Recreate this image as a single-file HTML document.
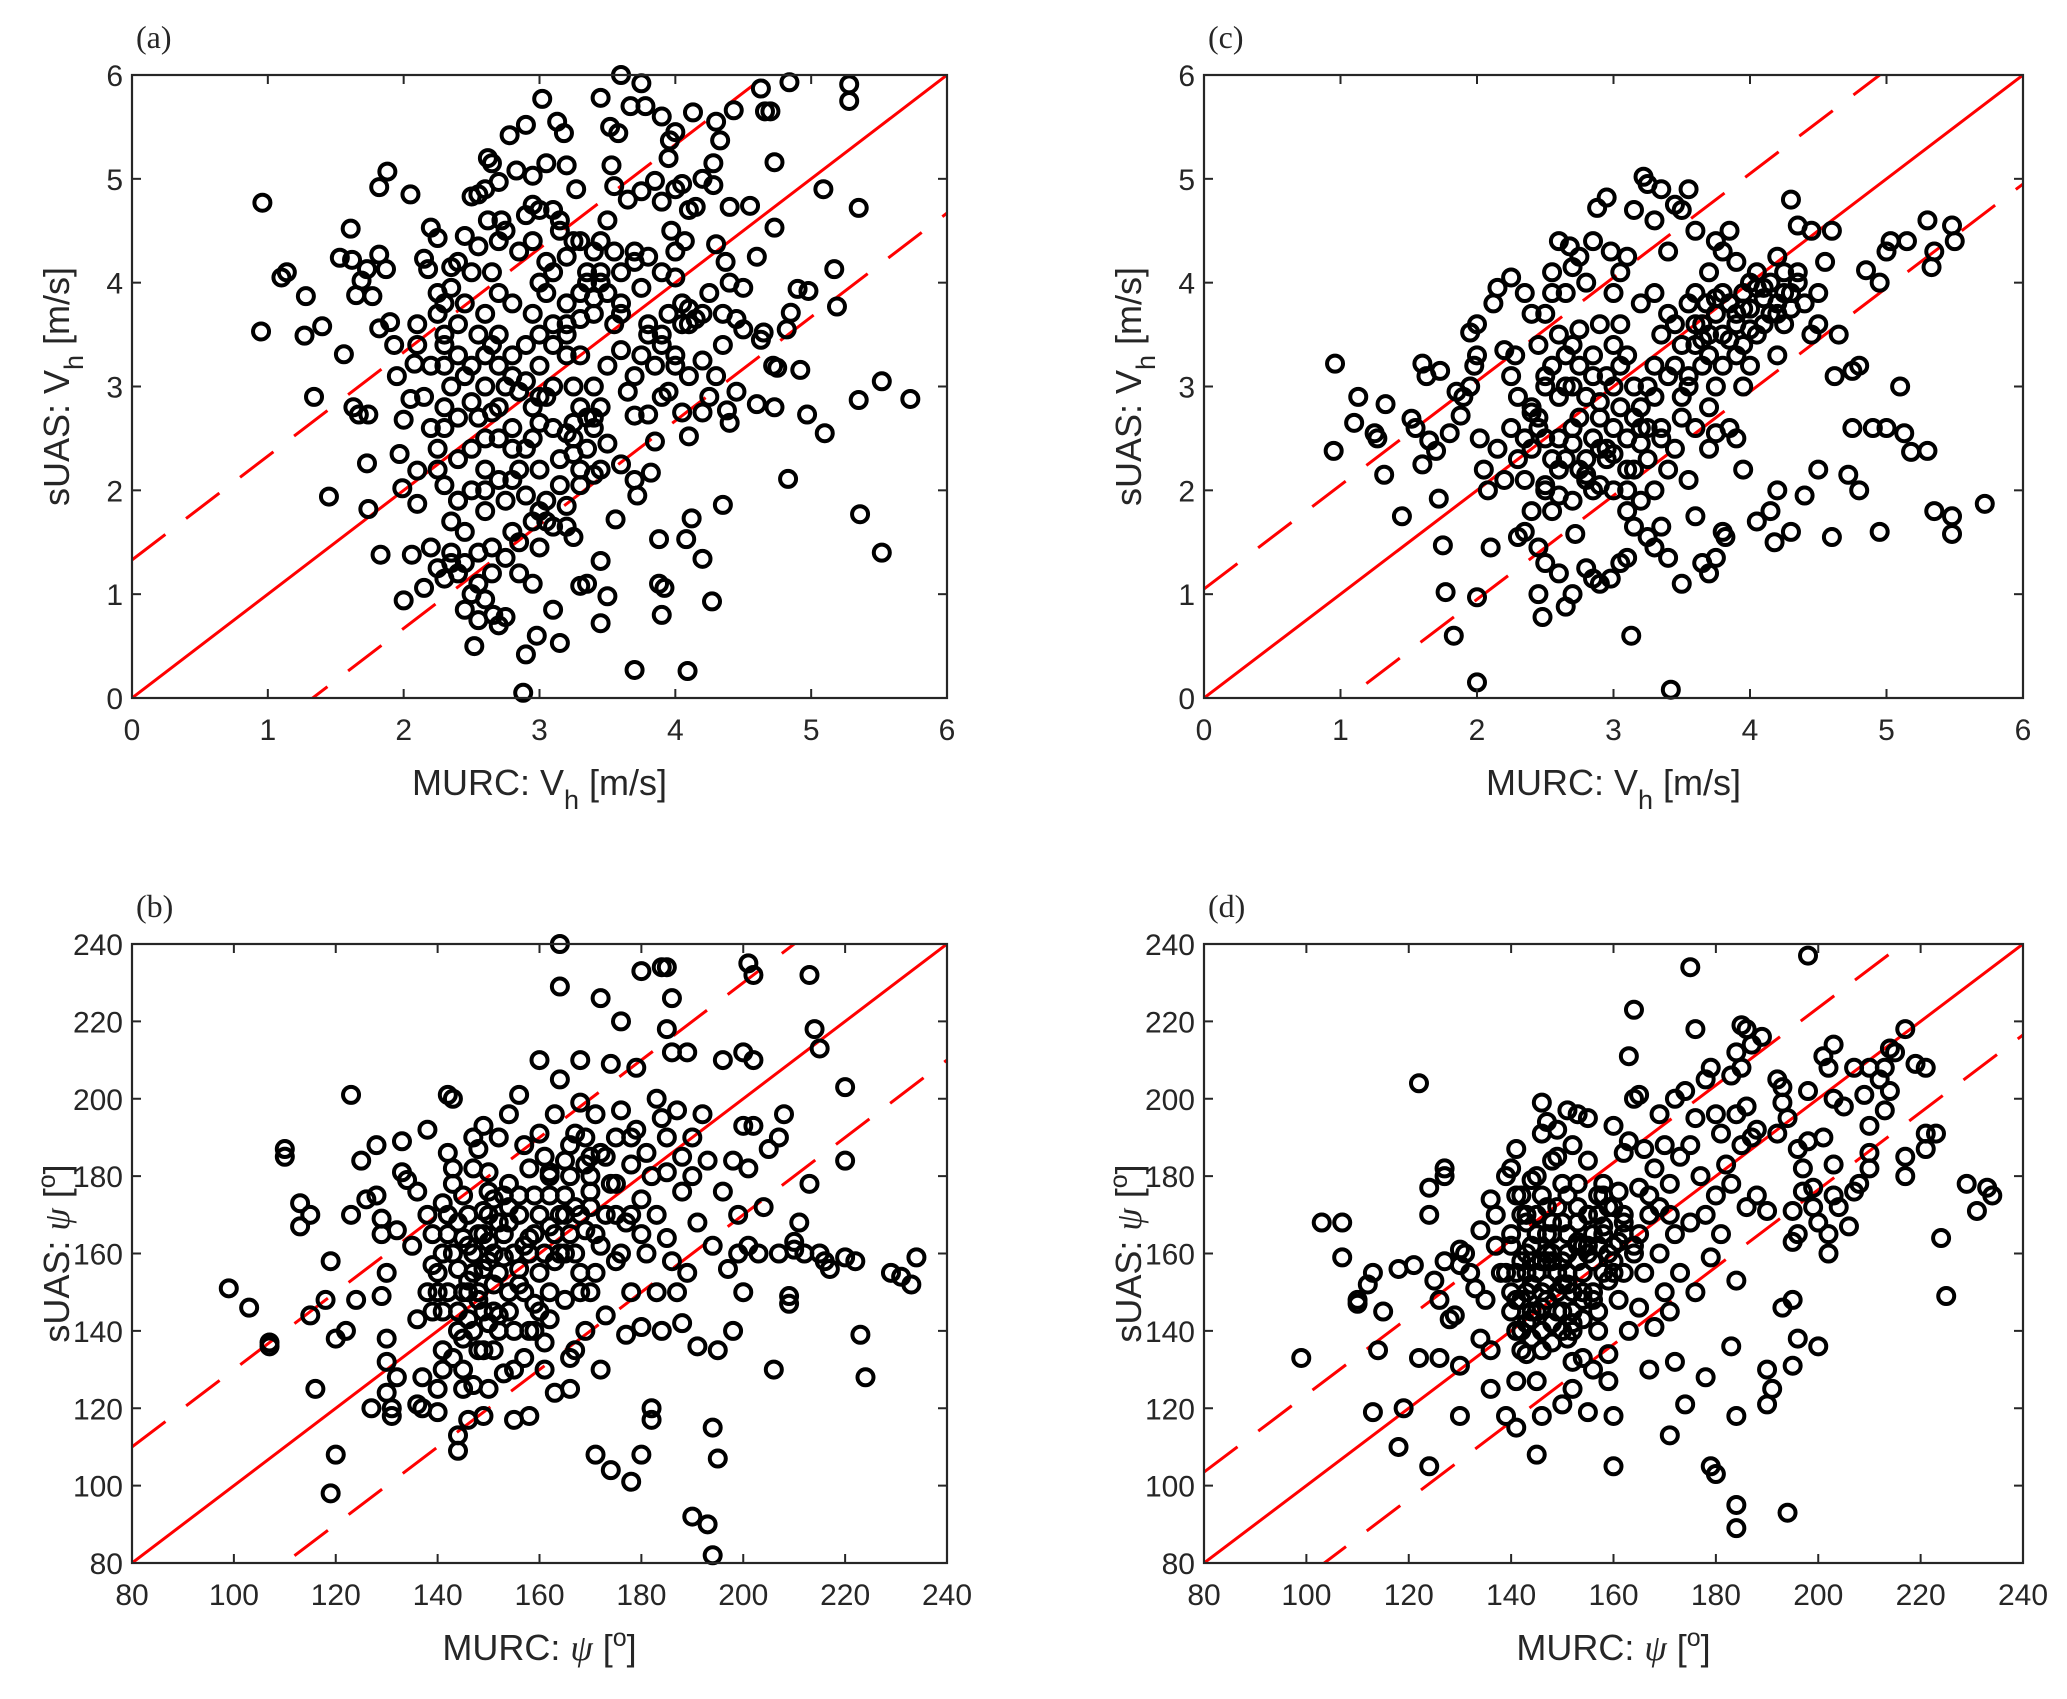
<!DOCTYPE html>
<html><head><meta charset="utf-8"><style>
html,body{margin:0;padding:0;background:#fff;}
svg{display:block;}
text{font-family:"Liberation Sans",sans-serif;fill:#262626;}
.ser{font-family:"Liberation Serif",serif;}
</style></head><body>
<svg id="fig" width="2067" height="1699" viewBox="0 0 2067 1699" xmlns="http://www.w3.org/2000/svg"></svg>
<script>
// ---- data ----
const aX=[0.96,0.95,1.1,1.14,1.28,1.27,1.4,1.34,1.53,1.56,1.61,1.62,1.65,1.69,1.73,1.77,1.63,1.67,1.74,1.73,1.74,1.45,1.83,1.82,1.82,1.87,1.88,1.82,2.05,1.9,1.93,1.95,1.97,2.0,1.99,2.0,2.06,2.1,2.1,2.05,2.08,2.1,2.15,2.18,2.2,2.25,2.15,2.2,2.25,2.3,2.35,2.4,2.45,2.5,2.52,2.55,2.6,2.66,2.7,2.75,2.9,2.88,2.98,3.1,3.15,3.3,3.35,3.45,3.5,3.45,3.7,4.09,3.88,3.92,3.9,3.88,4.08,4.2,4.12,4.27,4.35,3.56,3.25,3.0,3.1,2.8,2.85,2.95,3.05,3.2,3.3,3.4,3.5,3.6,3.7,3.72,3.82,3.85,3.8,3.7,3.95,4.05,4.1,4.2,4.25,4.4,4.38,4.45,4.6,4.73,4.97,5.1,5.35,5.52,5.73,4.83,5.36,5.52,4.92,4.72,4.75,4.63,4.65,4.82,4.85,4.9,4.98,5.19,5.17,5.09,5.35,4.73,4.6,4.55,4.4,4.73,4.7,4.66,4.63,4.84,5.28,5.28,4.43,4.3,4.28,4.33,4.28,4.2,4.13,4.0,3.96,3.9,3.95,3.75,3.78,3.67,3.6,3.45,3.52,3.58,3.53,3.55,3.65,3.75,3.85,3.9,4.0,4.05,4.1,4.15,4.07,4.0,3.97,4.3,4.37,4.4,4.5,4.45,4.5,4.35,4.25,4.2,4.15,4.1,4.05,3.95,4.0,4.1,4.2,4.3,4.35,3.9,3.8,3.75,3.7,3.65,3.6,3.55,3.5,3.45,3.4,3.35,3.3,3.2,3.15,3.1,3.0,2.95,2.9,3.05,3.2,3.27,3.13,3.18,3.02,2.95,2.83,2.9,2.78,2.62,2.65,2.7,2.6,2.55,2.5,2.62,2.72,2.7,2.45,2.4,2.5,2.35,2.3,2.25,2.3,2.4,2.45,2.35,2.3,2.2,2.25,2.4,2.5,2.6,2.7,2.75,2.8,2.85,2.9,2.95,3.0,2.95,2.8,2.7,2.6,2.55,2.65,3.05,3.1,3.2,3.25,3.3,3.1,3.0,3.2,3.25,3.35,3.4,3.45,3.5,2.8,2.7,2.6,2.5,2.4,2.3,2.35,2.45,2.6,2.7,2.75,2.85,2.9,2.65,2.55,2.25,2.2,2.15,2.1,2.3,2.55,2.65,3.0,3.1,3.2,3.3,3.4,3.6,3.7,3.75,3.8,3.9,3.6,3.55,3.45,3.85,3.9,4.05,4.0,3.3,3.25,2.95,3.05,3.15,3.0,
2.3,2.4,2.5,2.6,2.7,2.8,2.9,3.0,3.1,3.2,3.3,3.4,2.35,2.45,2.55,2.65,2.75,2.85,2.95,3.05,3.15,3.25,3.35,3.45,2.3,2.4,2.5,2.6,2.7,2.8,2.9,3.0,3.1,3.2,3.3,3.4,2.25,2.45,2.65,2.85,3.05,3.25,3.45,2.35,2.55,2.75,2.95,3.15,3.35,2.4,2.6,2.8,3.0,3.2,3.4,3.6,3.8,3.9,4.0,4.1,3.7,3.5];
const aY=[4.77,3.53,4.05,4.1,3.87,3.49,3.58,2.9,4.24,3.31,4.52,4.22,3.88,4.02,4.13,3.87,2.8,2.73,2.73,2.26,1.82,1.94,1.38,3.56,4.27,4.13,5.07,4.92,4.85,3.62,3.4,3.1,2.35,2.68,2.02,0.94,1.38,1.87,2.19,2.88,3.22,3.6,4.23,4.13,4.53,4.43,1.06,1.45,1.25,1.15,1.3,1.2,0.85,1.0,0.5,0.75,0.95,0.8,0.7,0.78,0.42,0.05,0.6,0.85,0.53,1.08,1.1,1.32,0.98,0.72,0.27,0.26,1.1,1.06,0.8,1.53,1.53,1.34,1.73,0.93,1.86,1.72,1.55,1.45,1.65,1.6,1.2,1.1,1.7,1.85,2.05,2.15,2.45,2.25,2.1,1.95,2.17,2.47,2.73,2.72,2.95,2.75,2.52,2.75,2.9,2.65,2.77,2.95,2.83,2.8,2.73,2.55,2.87,3.05,2.88,2.11,1.77,1.4,3.16,3.2,3.18,3.45,3.52,3.55,3.71,3.94,3.92,3.77,4.13,4.9,4.72,4.53,4.25,4.74,4.73,5.16,5.65,5.65,5.87,5.93,5.91,5.75,5.66,5.55,5.15,5.37,4.94,5.0,5.64,5.45,5.37,5.6,5.2,5.92,5.7,5.7,6.0,5.78,5.5,5.44,5.13,4.93,4.8,4.88,4.98,4.78,4.9,4.95,4.7,4.73,4.4,4.3,4.5,4.37,4.2,4.0,3.95,3.65,3.55,3.7,3.9,3.7,3.65,3.75,3.8,3.7,3.3,3.1,3.25,3.1,3.4,3.5,3.6,3.3,3.1,2.95,3.35,3.6,3.9,4.1,4.3,4.0,4.4,4.25,4.5,4.7,4.7,4.75,4.65,5.15,5.13,4.9,5.55,5.44,5.77,5.03,5.08,5.52,5.42,5.2,5.15,4.97,4.9,4.85,4.83,4.6,4.6,4.4,4.45,4.2,4.1,3.95,3.8,3.7,3.5,3.3,3.1,3.0,2.8,2.6,2.4,2.7,2.85,3.0,3.2,3.0,3.1,2.95,3.05,2.8,3.5,3.7,3.8,3.9,3.7,3.5,3.4,3.9,3.6,3.3,3.0,2.8,2.6,2.65,2.55,2.35,2.4,2.6,2.8,3.2,2.4,2.5,2.2,2.0,1.9,2.05,1.7,1.6,1.8,2.1,1.9,2.2,1.95,1.45,1.4,2.2,3.2,2.9,3.4,3.2,2.7,2.75,4.0,4.1,3.8,3.65,3.85,4.1,4.2,3.95,4.25,4.1,3.8,4.3,4.4,3.2,2.9,3.6,4.05,3.3,2.65,2.5,2.9,2.05,2.2,
3.4,3.6,3.2,3.3,3.5,3.3,3.4,3.2,3.0,3.6,3.9,3.7,1.4,1.3,1.1,1.2,1.35,1.5,1.7,1.9,2.3,2.5,2.7,2.2,2.6,2.3,2.4,2.5,2.8,2.6,2.4,2.9,3.4,3.5,2.2,3.0,3.9,3.8,4.1,4.3,4.2,4.4,4.0,4.15,4.35,4.5,4.4,4.6,4.1,1.9,2.0,2.1,1.8,1.65,2.7,3.7,3.5,3.4,3.2,3.6,4.3,4.6];
const cX=[0.96,0.95,1.13,1.1,1.25,1.27,1.33,1.32,1.45,1.52,1.55,1.6,1.6,1.63,1.65,1.7,1.72,1.73,1.75,1.77,1.83,1.8,1.85,1.88,1.9,1.95,1.95,1.98,2.0,2.0,2.02,2.05,2.08,2.0,2.0,2.1,2.12,2.15,2.2,2.25,2.25,2.3,2.3,2.35,2.35,2.4,2.4,2.45,2.45,2.48,2.5,2.5,2.55,2.6,2.65,2.68,2.7,2.75,2.6,2.65,2.7,2.72,2.8,2.85,2.9,2.98,3.05,3.13,3.1,3.15,3.25,3.3,3.35,3.42,3.4,3.5,3.6,3.65,3.7,3.75,3.8,3.82,3.95,4.05,4.15,4.18,4.2,4.3,4.4,4.5,4.6,4.72,4.75,4.8,4.95,4.9,5.0,5.1,5.13,5.18,5.3,5.35,5.48,5.48,5.72,4.95,5.0,5.03,5.15,5.3,5.33,5.35,5.48,5.5,4.85,4.8,4.75,4.62,4.65,4.5,4.55,4.6,4.45,4.35,4.3,4.2,4.15,4.1,4.05,4.0,3.95,3.9,3.85,3.8,3.75,3.7,3.68,3.65,3.6,3.55,3.5,3.45,3.4,3.35,3.3,3.22,3.25,3.15,3.1,3.0,3.05,2.98,2.95,2.88,2.85,2.8,2.75,4.05,4.0,3.9,3.8,3.75,3.7,3.6,3.55,3.5,3.45,3.4,3.35,3.3,3.25,3.2,3.15,3.1,3.05,3.0,2.95,2.9,2.85,2.8,2.75,2.7,2.65,2.6,2.55,2.5,2.45,2.4,2.35,2.3,2.28,2.25,2.2,2.15,2.6,2.65,2.7,2.75,2.8,2.85,2.9,2.95,3.0,3.05,3.1,3.15,3.2,3.25,3.3,3.35,3.4,3.45,3.5,3.55,3.6,3.65,3.7,3.75,3.8,3.85,3.9,3.95,4.0,4.1,4.2,4.25,4.3,4.35,4.4,4.45,4.5,4.25,3.85,3.9,3.7,3.75,3.55,2.5,2.55,2.6,2.7,2.4,2.35,2.45,2.5,2.55,2.9,2.85,3.0,3.1,3.2,3.3,4.2,3.95,3.6,
2.4,2.5,2.6,2.7,2.8,2.9,3.0,3.1,3.2,3.3,3.4,3.5,3.6,3.7,3.8,3.9,4.0,4.1,4.2,4.3,2.45,2.55,2.65,2.75,2.85,2.95,3.05,3.15,3.25,3.35,3.45,3.55,3.65,3.75,3.85,3.95,4.05,4.15,4.25,4.35,2.5,2.6,2.7,2.8,2.9,3.0,3.1,3.2];
const cY=[3.22,2.38,2.9,2.65,2.55,2.5,2.83,2.15,1.75,2.69,2.6,3.22,2.25,3.1,2.48,2.38,1.92,3.15,1.47,1.02,0.6,2.55,2.95,2.72,2.9,3.52,3.0,3.2,3.3,3.6,2.5,2.2,2.0,0.97,0.15,1.45,3.8,3.95,3.35,3.1,4.05,2.3,1.55,1.6,3.9,3.7,2.75,1.45,1.0,0.78,1.3,2.0,4.1,4.4,3.9,4.35,4.15,3.55,1.2,0.88,1.0,1.58,1.25,1.15,1.1,1.15,1.3,0.6,1.35,1.65,1.55,1.45,1.65,0.08,1.35,1.1,1.75,1.3,1.2,1.35,1.6,1.55,2.2,1.7,1.8,1.5,2.0,1.6,1.95,2.2,1.55,2.15,2.6,2.0,1.6,2.6,2.6,3.0,2.55,2.37,2.38,1.8,1.58,1.75,1.87,4.0,4.3,4.4,4.4,4.6,4.15,4.3,4.55,4.4,4.12,3.2,3.15,3.1,3.5,3.6,4.2,4.5,4.5,4.55,4.8,4.25,4.0,3.85,4.1,3.75,3.9,4.2,4.5,4.3,4.4,4.1,3.8,3.6,4.5,4.9,4.7,4.75,4.3,4.9,4.6,5.02,4.95,4.7,4.25,3.9,4.1,4.3,4.82,4.72,4.4,4.0,4.25,3.5,3.2,3.3,3.5,3.0,2.8,3.4,3.0,2.7,2.4,2.2,2.6,2.0,2.3,2.8,3.0,3.3,3.6,2.6,2.3,2.05,2.5,2.9,3.2,2.6,2.3,2.9,3.2,3.0,2.7,2.4,2.1,2.9,3.3,2.6,2.1,2.4,3.5,3.3,3.0,2.7,2.3,2.0,2.7,3.1,3.4,2.8,2.5,2.2,1.9,2.6,3.2,3.5,3.7,3.2,3.4,3.8,3.9,3.2,3.5,3.7,3.2,3.8,3.6,3.4,4.0,3.6,3.8,3.6,3.9,4.1,3.8,3.5,3.9,4.1,2.6,2.5,2.4,2.55,2.1,2.5,1.8,2.2,1.9,1.8,2.5,3.4,3.7,3.9,3.6,3.3,2.0,1.8,3.8,3.9,3.3,3.0,2.6,
2.8,3.1,2.5,3.4,2.1,2.4,3.0,2.2,2.6,2.9,3.1,2.9,3.6,3.3,3.9,3.7,3.55,3.95,3.7,3.75,2.6,2.3,3.0,2.2,3.1,2.4,3.2,2.7,3.0,2.5,3.6,3.1,3.45,3.85,3.45,3.75,3.95,3.7,3.9,4.0,2.05,1.95,2.45,2.15,2.85,2.35,2.0,2.45];
const bX=[99,103,107,107,110,110,113,113,115,115,116,118,119,119,120,120,122,123,123,124,125,126,127,128,128,129,129,129,130,130,130,130,131,131,132,132,133,133,134,135,136,136,136,137,137,138,138,139,140,140,141,141,141,142,142,143,143,144,144,144,144,145,145,145,146,146,146,147,147,147,148,148,148,149,149,149,149,150,150,150,150,151,151,151,152,152,152,153,153,154,154,154,155,155,156,156,156,157,157,158,158,159,159,160,160,160,161,161,162,162,162,163,163,164,164,164,165,165,165,166,166,167,167,168,168,168,169,169,169,170,170,171,171,172,172,172,172,173,173,174,174,175,175,175,176,176,177,177,178,178,178,179,179,180,180,180,180,181,181,182,182,183,183,183,184,184,184,185,185,185,185,186,186,186,187,187,188,188,189,189,190,190,191,191,192,193,193,194,194,194,195,195,196,196,197,198,198,199,199,200,200,200,201,201,201,202,202,202,203,204,205,206,207,207,208,209,209,210,210,211,212,213,213,214,215,215,216,217,220,220,220,222,223,224,229,231,233,234,142,143,144,145,146,147,148,149,150,151,152,153,154,155,156,157,158,159,160,161,162,163,164,165,166,167,168,170,171,173,175,176,178,180,182,185,188,190,140,141,143,145,147,149,139,139,138,
140,142,144,146,148,150,152,154,156,158,160,162,164,166,168,170,141,143,145,147,149,151,153,155,157,159,161,163,165,167,169,171,142,146,150,154,158,162,166,170,174,178];
const bY=[151,146,137,136,187,185,173,167,170,144,125,148,158,98,108,138,140,201,170,148,184,174,120,175,188,169,165,149,155,138,132,124,120,118,166,128,189,181,179,162,176,143,121,128,120,192,170,157,119,125,135,145,173,201,186,200,178,156,140,113,109,164,150,130,170,143,117,182,160,126,187,148,135,193,171,156,118,181,163,142,125,174,152,135,190,168,144,159,129,196,178,150,140,117,201,170,156,133,188,164,118,175,147,210,191,155,137,130,181,167,143,196,124,240,229,205,184,160,148,133,125,191,172,210,199,155,183,166,140,176,150,196,108,226,186,162,130,170,144,209,104,190,178,158,220,197,168,139,101,183,150,192,208,108,233,174,141,186,160,120,117,200,170,150,234,195,140,234,218,181,164,212,226,158,197,150,176,142,212,155,180,92,136,168,196,90,184,82,115,162,107,135,210,176,156,184,140,160,170,193,212,150,235,182,162,232,210,193,160,172,187,130,190,160,196,149,147,163,161,168,160,178,232,218,213,160,158,156,203,184,159,158,139,128,155,154,152,159,150,160,168,175,153,140,165,145,170,160,155,165,145,160,175,150,140,165,170,160,150,165,170,175,180,160,170,180,165,185,170,160,170,165,180,190,185,190,150,160,133,138,155,165,145,165,150,
155,170,145,162,150,176,140,168,152,182,145,175,160,188,150,172,130,182,125,190,135,145,175,130,162,140,185,158,170,135,190,155,165,150,158,172,160,180,165,185,178,190];
const dX=[99,103,107,107,110,110,112,113,114,115,113,118,118,119,121,122,122,124,124,124,125,126,126,127,127,127,128,129,130,130,130,130,131,132,133,134,134,135,136,136,136,137,137,138,139,139,140,140,140,141,141,141,142,142,142,143,143,143,144,144,144,145,145,145,145,146,146,146,146,146,147,147,147,148,148,148,149,149,150,150,150,151,151,151,152,152,152,153,153,153,154,154,155,155,155,156,156,156,157,157,158,158,159,159,160,160,160,160,161,161,162,162,162,163,163,163,164,164,164,165,165,165,166,166,167,167,168,168,169,169,170,170,171,171,171,172,172,172,173,173,174,174,175,175,175,176,176,176,177,178,178,178,179,179,179,180,180,180,181,181,182,183,183,183,184,184,184,184,184,184,185,185,185,186,186,186,187,187,188,188,189,190,190,190,191,192,192,193,193,193,194,194,195,195,195,195,196,196,196,197,197,198,198,198,199,199,200,200,201,201,202,202,202,203,203,203,203,204,205,206,207,207,208,209,210,210,210,210,212,213,213,214,214,215,217,217,217,219,221,221,221,223,224,225,229,231,233,234,140,141,142,143,144,145,146,147,148,149,150,151,152,153,154,155,156,157,158,159,160,161,162,143,144,146,148,150,152,154,139,141,145,147,149,151,153,155,157,159,165,167,169,171,
140,141,142,143,144,145,146,147,148,149,150,151,152,153,154,155,156,157,158,159,160,142,144,146,148,150,152,154,156,158,160,162,164,141,143,145,147,149,151,153,155];
const dY=[133,168,168,159,148,147,152,155,135,145,119,156,110,120,157,204,133,177,170,105,153,148,133,182,180,158,143,144,161,157,131,118,160,155,151,166,138,148,174,135,125,170,162,155,180,118,182,165,145,187,127,115,175,158,140,170,150,134,179,162,145,165,155,127,108,199,191,175,140,118,194,160,148,184,168,137,192,155,121,178,145,197,165,152,188,132,125,196,172,158,143,133,184,195,119,165,150,130,170,140,178,155,127,134,193,162,118,105,176,148,186,170,155,211,189,140,223,200,162,201,177,146,187,155,130,170,182,141,196,160,188,150,178,113,145,200,165,132,185,155,202,121,234,188,168,218,195,150,180,205,170,128,208,159,105,196,175,103,191,165,183,206,178,136,212,196,153,118,95,89,219,208,188,218,198,172,190,214,192,175,216,171,130,121,125,205,191,203,199,146,195,93,171,163,148,131,187,165,138,182,176,237,202,189,177,172,168,136,211,190,208,165,160,214,200,183,175,172,198,167,208,176,178,201,208,193,186,182,205,208,197,202,213,212,218,185,180,209,208,191,187,191,164,149,178,171,177,175,150,155,148,160,152,145,158,152,160,150,158,160,150,162,155,160,158,162,165,160,158,163,165,142,138,135,142,140,145,148,155,140,170,165,172,175,168,170,175,172,165,175,172,170,
162,148,170,155,143,165,150,172,158,145,168,155,142,163,150,170,158,145,167,153,172,135,158,146,165,152,140,162,148,175,155,168,160,175,168,180,158,185,138,178,162];
// tick labels
const vTicks=[0,1,2,3,4,5,6];
const psiTicks=[80,100,120,140,160,180,200,220,240];
// dashed-line offsets
const offA=1.33, offC=1.05, offB=30, offD=23.5;

const NS='http://www.w3.org/2000/svg';
const svg=document.getElementById('fig');
function mk(tag,attrs,parent){const e=document.createElementNS(NS,tag);for(const k in attrs)e.setAttribute(k,attrs[k]);(parent||svg).appendChild(e);return e;}

function panel(id,L,T,R,B,lo,hi,ticks,xs,ys,off,letter,isPsi){
  const g=mk('g',{});
  
  
  const sx=v=>L+(v-lo)/(hi-lo)*(R-L);
  const sy=v=>B-(v-lo)/(hi-lo)*(B-T);
  const clip=mk('clipPath',{id:'clip'+id},g);
  mk('rect',{x:L,y:T,width:R-L,height:B-T},clip);
  const lines=mk('g',{'clip-path':'url(#clip'+id+')'},g);
  
  
  const l1=mk('line',{x1:sx(lo),y1:sy(lo),x2:sx(hi),y2:sy(hi),stroke:'#ff0000','stroke-width':3},lines);
  
  
  [off,-off].forEach(o=>{
    const l=mk('line',{x1:sx(lo),y1:sy(lo+o),x2:sx(hi),y2:sy(hi+o),stroke:'#ff0000','stroke-width':3,'stroke-dasharray':'42 26'},lines);
    
    
  });
  const pts=mk('g',{},g);
  
  
  const n=Math.min(xs.length,ys.length);
  for(let i=0;i<n;i++){
    const c=mk('circle',{cx:sx(xs[i]),cy:sy(ys[i]),r:8,fill:'none',stroke:'#000','stroke-width':4},pts);
    
    
  }
  const ax=mk('rect',{x:L,y:T,width:R-L,height:B-T,fill:'none',stroke:'#262626','stroke-width':2.2},g);
  
  
  ticks.forEach(t=>{
    const x=sx(t),y=sy(t);
    mk('line',{x1:x,y1:B,x2:x,y2:B-9,stroke:'#262626','stroke-width':2},g);
    mk('line',{x1:x,y1:T,x2:x,y2:T+9,stroke:'#262626','stroke-width':2},g);
    mk('line',{x1:L,y1:y,x2:L+9,y2:y,stroke:'#262626','stroke-width':2},g);
    mk('line',{x1:R,y1:y,x2:R-9,y2:y,stroke:'#262626','stroke-width':2},g);
    const tx=mk('text',{x:x,y:B+42,'font-size':30,'text-anchor':'middle'},g);
    tx.textContent=t;
    
    
    const ty=mk('text',{x:L-9,y:y+11,'font-size':30,'text-anchor':'end'},g);
    ty.textContent=t;
    
    
  });
  const lt=mk('text',{x:L+4,y:T-27,'font-size':32,class:'ser'},g);
  lt.textContent='('+letter+')';
  
  
  const cx=(L+R)/2, cy=(T+B)/2;
  const xt=mk('text',{x:cx,y:B+97,'font-size':36,'text-anchor':'middle'},g);
  
  
  const yt=mk('text',{x:0,y:0,'font-size':36,'text-anchor':'middle',transform:'translate('+(L-63)+','+cy+') rotate(-90)'},g);
  
  
  if(!isPsi){
    xt.innerHTML='MURC: V<tspan dy="14" font-size="27">h</tspan><tspan dy="-14"> [m/s]</tspan>';
    yt.innerHTML='sUAS: V<tspan dy="14" font-size="27">h</tspan><tspan dy="-14"> [m/s]</tspan>';
  } else {
    xt.innerHTML='MURC: <tspan font-family="Liberation Serif, serif" font-style="italic">ψ</tspan> [<tspan dy="-14" font-size="25">o</tspan><tspan dy="14">]</tspan>';
    yt.innerHTML='sUAS: <tspan font-family="Liberation Serif, serif" font-style="italic">ψ</tspan> [<tspan dy="-14" font-size="25">o</tspan><tspan dy="14">]</tspan>';
  }
}
panel('a',132,75,947,698,0,6,vTicks,aX,aY,offA,'a',false);
panel('c',1204,75,2023,698,0,6,vTicks,cX,cY,offC,'c',false);
panel('b',132,944,947,1563,80,240,psiTicks,bX,bY,offB,'b',true);
panel('d',1204,944,2023,1563,80,240,psiTicks,dX,dY,offD,'d',true);
</script>
</body></html>
